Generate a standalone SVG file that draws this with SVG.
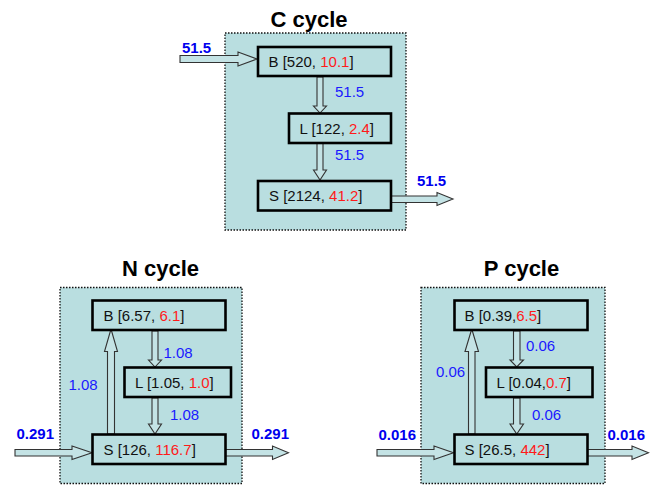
<svg xmlns="http://www.w3.org/2000/svg" width="656" height="485" viewBox="0 0 656 485">
<style>
.panel{fill:#B9DEE0;stroke:#111;stroke-width:1.3;stroke-dasharray:1.5 1.5}
.box{fill:#B9DEE0;stroke:#000;stroke-width:2.6}
.arr{fill:#C4E3E5;stroke:#333;stroke-width:1.1;stroke-linejoin:miter}
.t{font-family:"Liberation Sans",Arial,sans-serif;font-size:15px;fill:#111}
.title{font-family:"Liberation Sans",Arial,sans-serif;font-size:22px;font-weight:bold;fill:#000;text-anchor:middle}
.red{fill:#FF1A1A}
.flow{font-family:"Liberation Sans",Arial,sans-serif;font-size:15px;fill:#1A1AFF}
.ext{font-family:"Liberation Sans",Arial,sans-serif;font-size:15px;font-weight:bold;fill:#0000EE}
</style>
<g id="panels">
<rect class="panel" x="225" y="33" width="181" height="197"/>
<rect class="panel" x="60" y="287.5" width="182" height="196"/>
<rect class="panel" x="421" y="287.5" width="184" height="196"/>
<text class="title" x="309" y="27">C cycle</text>
<text class="title" x="160.5" y="276">N cycle</text>
<text class="title" x="521.5" y="276">P cycle</text>
</g>
<g id="connectors">
<!-- C cycle -->
<polygon class="arr" points="180,55.5 238,55.5 238,52 257,59 238,66 238,62.5 180,62.5"/>
<polygon class="arr" points="317,77 323,77 323,106 326.5,106 320,113 313.5,106 317,106"/>
<polygon class="arr" points="317,143 323,143 323,170 326.5,170 320,180 313.5,170 317,170"/>
<polygon class="arr" points="391,196 437,196 437,192.5 453,199 437,205.5 437,202.5 391,202.5"/>
<!-- N cycle -->
<polygon class="arr" points="107.5,434 107.5,351.5 104.5,351.5 111,329 117.5,351.5 114.5,351.5 114.5,434"/>
<polygon class="arr" points="152,331 158,331 158,360 161.5,360 155,367 148.5,360 152,360"/>
<polygon class="arr" points="152,398 158,398 158,424 161.5,424 155,434 148.5,424 152,424"/>
<polygon class="arr" points="15,449.5 72,449.5 72,446 92,452.75 72,459.5 72,456 15,456"/>
<polygon class="arr" points="225.5,449.5 272.5,449.5 272.5,446 288.5,452.75 272.5,459.5 272.5,456 225.5,456"/>
<!-- P cycle -->
<polygon class="arr" points="468.5,434 468.5,351.5 465,351.5 471.75,329 478.5,351.5 475,351.5 475,434"/>
<polygon class="arr" points="513.5,331 520,331 520,360 523.5,360 516.75,367 510,360 513.5,360"/>
<polygon class="arr" points="513.5,398 520,398 520,424 523.5,424 516.75,434 510,424 513.5,424"/>
<polygon class="arr" points="377,449.5 434,449.5 434,446 453.5,452.75 434,459.5 434,456 377,456"/>
<polygon class="arr" points="587.5,449.5 632,449.5 632,446 648.5,452.75 632,459.5 632,456 587.5,456"/>
<!-- labels -->
<text class="ext" x="182" y="52.5">51.5</text>
<text class="flow" x="335" y="97">51.5</text>
<text class="flow" x="335" y="160">51.5</text>
<text class="ext" x="417" y="186">51.5</text>
<text class="ext" x="16.5" y="439">0.291</text>
<text class="ext" x="251.5" y="439">0.291</text>
<text class="flow" x="68.5" y="389.5">1.08</text>
<text class="flow" x="163.5" y="357.5">1.08</text>
<text class="flow" x="170" y="420">1.08</text>
<text class="ext" x="378.5" y="440">0.016</text>
<text class="ext" x="607.5" y="440">0.016</text>
<text class="flow" x="436" y="377">0.06</text>
<text class="flow" x="526" y="351">0.06</text>
<text class="flow" x="532" y="420">0.06</text>
</g>
<g id="C-B"><rect class="box" x="258" y="47" width="133" height="29"/><text class="t" x="268.5" y="67">B [520, <tspan class="red">10.1</tspan>]</text></g>
<g id="C-L"><rect class="box" x="289" y="113.5" width="102" height="29.5"/><text class="t" x="299.5" y="133.5">L [122, <tspan class="red">2.4</tspan>]</text></g>
<g id="C-S"><rect class="box" x="258" y="181" width="133" height="29.5"/><text class="t" x="269" y="201">S [2124, <tspan class="red">41.2</tspan>]</text></g>
<g id="N-B"><rect class="box" x="92.5" y="300.5" width="133" height="29.5"/><text class="t" x="103.5" y="320.5">B [6.57, <tspan class="red">6.1</tspan>]</text></g>
<g id="N-L"><rect class="box" x="124.5" y="367.5" width="106.5" height="29.5"/><text class="t" x="135" y="387.5">L [1.05, <tspan class="red">1.0</tspan>]</text></g>
<g id="N-S"><rect class="box" x="92.5" y="434.5" width="133" height="29.5"/><text class="t" x="103.5" y="454.5">S [126, <tspan class="red">116.7</tspan>]</text></g>
<g id="P-B"><rect class="box" x="454.5" y="300.5" width="133" height="29.5"/><text class="t" x="464.5" y="320.5">B [0.39,<tspan class="red">6.5</tspan>]</text></g>
<g id="P-L"><rect class="box" x="486" y="367.5" width="106.5" height="29.5"/><text class="t" x="496.5" y="387.5">L [0.04,<tspan class="red">0.7</tspan>]</text></g>
<g id="P-S"><rect class="box" x="454.5" y="434.5" width="133" height="29.5"/><text class="t" x="464.5" y="454.5">S [26.5, <tspan class="red">442</tspan>]</text></g>
</svg>
